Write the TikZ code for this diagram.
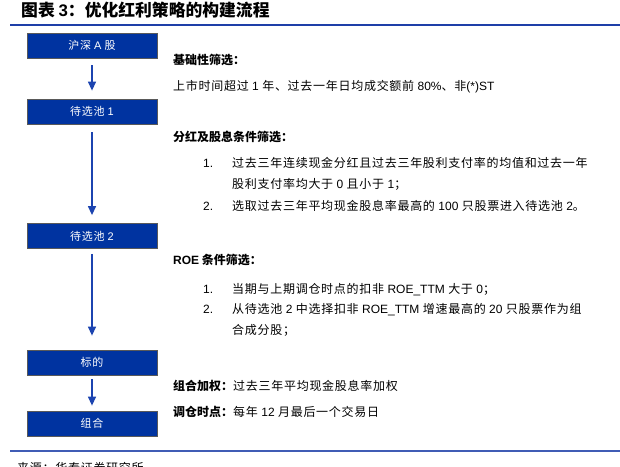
\documentclass[tikz,border=0pt]{standalone}
\usepackage{fontspec}
\setmainfont{Noto Sans CJK SC}
\newfontfamily\lat{Liberation Sans}
\newfontfamily\wide[LetterSpace=6]{Noto Sans CJK SC}
\usetikzlibrary{arrows.meta}
\definecolor{boxblue}{HTML}{0033A0}
\definecolor{lineblue}{HTML}{1E3FA8}
\definecolor{arrblue}{HTML}{1C44B0}
\newcommand{\la}[1]{{\lat #1}}
\begin{document}
\begin{tikzpicture}[x=1pt,y=-1pt,
  box/.style={draw=gray!70!black, line width=0.8pt, fill=boxblue, minimum width=130pt, minimum height=25pt, inner sep=0pt, text=white, font=\wide\fontsize{11}{11}\selectfont},
  arr/.style={draw=arrblue, line width=1.3pt, -{Triangle[width=8pt,length=9pt,fill=arrblue]}},
  txt/.style={anchor=base west, inner sep=0pt, font=\fontsize{12}{12}\selectfont},
  rule/.style={draw=lineblue, line width=1.5pt}]
\clip (0,0) rectangle (620,466);
\fill[white] (0,0) rectangle (620,466);
% title
\node[anchor=base west, inner sep=0pt, font=\fontsize{16.8}{16.8}\selectfont\bfseries] (title) at (21,16) {图表 \la{3}：优化红利策略的构建流程};
\coordinate (r1a) at (10,25); \coordinate (r1b) at (620,25);
\draw[rule] (r1a) -- (r1b);
% boxes
\node[box] (b1) at (92,45.5) {沪深 \la{A} 股};
\node[box] (b2) at (92,111.5) {待选池 \la{1}};
\node[box] (b3) at (92,236) {待选池 \la{2}};
\node[box] (b4) at (92,362.5) {标的};
\node[box] (b5) at (92,423.5) {组合};
\draw[arr] ([yshift=-7pt]b1.south) -- ([yshift=8pt]b2.north);
\draw[arr] ([yshift=-8pt]b2.south) -- ([yshift=8pt]b3.north);
\draw[arr] ([yshift=-5pt]b3.south) -- ([yshift=14pt]b4.north);
\draw[arr] ([yshift=-4pt]b4.south) -- ([yshift=5pt]b5.north);
% right column
\node[txt] (h1) at (173,64.5) {\bfseries 基础性筛选：};
\node[txt] (t1) at (173,90.5) {\wide 上市时间超过 \la{1} 年、过去一年日均成交额前 \la{80\%}、非\la{(*)ST}};
\node[txt] (h2) at (173,141.5) {\bfseries 分红及股息条件筛选：};
\node[txt] (n21) at (203,167.5) {\la{1.}};
\node[txt] (t21) at (232,167.5) {\wide 过去三年连续现金分红且过去三年股利支付率的均值和过去一年};
\node[txt] (t21b) at (232,188) {\wide 股利支付率均大于 \la{0} 且小于 \la{1}；};
\node[txt] (n22) at (203,210.5) {\la{2.}};
\node[txt] (t22) at (232,210.5) {\wide 选取过去三年平均现金股息率最高的 \la{100} 只股票进入待选池 \la{2}。};
\node[txt] (h3) at (173,264.5) {{\lat\bfseries ROE} {\bfseries 条件筛选：}};
\node[txt] (n31) at (203,293.5) {\la{1.}};
\node[txt] (t31) at (232,293.5) {\wide 当期与上期调仓时点的扣非 \la{ROE\_TTM} 大于 \la{0}；};
\node[txt] (n32) at (203,313.5) {\la{2.}};
\node[txt] (t32) at (232,313.5) {\wide 从待选池 \la{2} 中选择扣非 \la{ROE\_TTM} 增速最高的 \la{20} 只股票作为组};
\node[txt] (t32b) at (232,334) {\wide 合成分股；};
\node[txt] (t4) at (173,390.5) {{\bfseries 组合加权：}{\wide 过去三年平均现金股息率加权}};
\node[txt] (t5) at (173,416.5) {{\bfseries 调仓时点：}{\wide 每年 \la{12} 月最后一个交易日}};
\coordinate (r2a) at (10,451); \coordinate (r2b) at (620,451);
\draw[rule, draw=lineblue!85!white] (r2a) -- (r2b);
\node[txt] (src) at (17,472) {\wide 来源：华泰证券研究所};
\end{tikzpicture}
\end{document}
